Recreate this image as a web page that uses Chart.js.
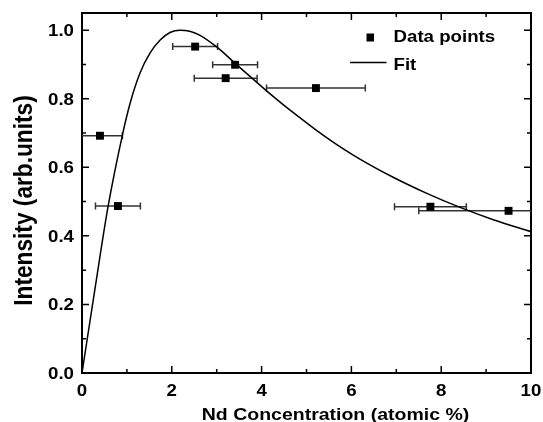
<!DOCTYPE html>
<html>
<head>
<meta charset="utf-8">
<script src="https://cdn.jsdelivr.net/npm/chart.js@4.4.1/dist/chart.umd.min.js"></script>
<style>
  html, body { margin: 0; padding: 0; background: #fff; }
</style>
</head>
<body>
<canvas id="chart" width="543" height="422"></canvas>
<script>
// measured points with horizontal error bars
const ndConc = [0.4, 0.8, 2.52, 3.41, 3.2, 5.21, 7.76, 9.5];
const intensity = [0.692, 0.487, 0.952, 0.899, 0.860, 0.831, 0.485, 0.473];
const concErr = [0.5, 0.5, 0.5, 0.5, 0.7, 1.1, 0.8, 2.0];

// fit curve
const fitConc = [0, 0.3, 0.58, 0.9, 1.07, 1.29, 1.51, 1.74, 1.96, 2.18, 2.4, 2.63, 3.0, 3.37, 3.74, 4.11, 4.48, 4.86, 5.23, 5.6, 6.19, 6.93, 7.68, 8.42, 9.16, 10];
const fitIntensity = [0, 0.255, 0.485, 0.694, 0.786, 0.874, 0.932, 0.971, 0.993, 1.0, 0.997, 0.985, 0.951, 0.908, 0.865, 0.823, 0.783, 0.744, 0.707, 0.673, 0.624, 0.571, 0.524, 0.483, 0.447, 0.412];

const xTickLabels = [0, 2, 4, 6, 8, 10];
const yTickLabels = [0.0, 0.2, 0.4, 0.6, 0.8, 1.0];

const FONT = "Arial, 'Liberation Sans', sans-serif";
const SX = 1.14; // the original text is a bit wider than tall

function wideText(ctx, text, x, y, size, align, rotate) {
  ctx.save();
  ctx.translate(x, y);
  if (rotate) {
    ctx.rotate(-Math.PI / 2);
    ctx.scale(1, SX);
  } else {
    ctx.scale(SX, 1);
  }
  ctx.font = 'bold ' + size + 'px ' + FONT;
  ctx.textAlign = align;
  ctx.textBaseline = 'alphabetic';
  ctx.fillStyle = '#000';
  ctx.fillText(text, 0, 0);
  ctx.restore();
}

const errorBars = {
  id: 'errorBars',
  beforeDatasetsDraw(chart) {
    const { ctx, chartArea, scales: { x, y } } = chart;
    ctx.save();
    ctx.beginPath();
    ctx.rect(chartArea.left, chartArea.top, chartArea.right - chartArea.left, chartArea.bottom - chartArea.top);
    ctx.clip();
    ctx.strokeStyle = '#333';
    ctx.lineWidth = 1.5;
    ndConc.forEach((c, i) => {
      const py = y.getPixelForValue(intensity[i]);
      const x1 = x.getPixelForValue(c - concErr[i]);
      const x2 = x.getPixelForValue(c + concErr[i]);
      ctx.beginPath();
      ctx.moveTo(x1, py); ctx.lineTo(x2, py);
      ctx.moveTo(x1, py - 3.5); ctx.lineTo(x1, py + 3.5);
      ctx.moveTo(x2, py - 3.5); ctx.lineTo(x2, py + 3.5);
      ctx.stroke();
    });
    ctx.restore();
  }
};

const axesDecor = {
  id: 'axesDecor',
  afterDraw(chart) {
    const { ctx, chartArea: a, scales: { x, y } } = chart;
    ctx.save();
    ctx.strokeStyle = '#000';
    ctx.lineWidth = 1.5;
    ctx.beginPath();
    for (let i = 0; i < xTickLabels.length; i++) {
      const px = x.getPixelForValue(xTickLabels[i]);
      ctx.moveTo(px, a.bottom); ctx.lineTo(px, a.bottom - 7);
      ctx.moveTo(px, a.top); ctx.lineTo(px, a.top + 7);
      if (i < xTickLabels.length - 1) {
        const pm = x.getPixelForValue((xTickLabels[i] + xTickLabels[i + 1]) / 2);
        ctx.moveTo(pm, a.bottom); ctx.lineTo(pm, a.bottom - 4);
        ctx.moveTo(pm, a.top); ctx.lineTo(pm, a.top + 4);
      }
    }
    for (let i = 0; i < yTickLabels.length; i++) {
      const py = y.getPixelForValue(yTickLabels[i]);
      ctx.moveTo(a.left, py); ctx.lineTo(a.left + 7, py);
      ctx.moveTo(a.right, py); ctx.lineTo(a.right - 7, py);
      if (i < yTickLabels.length - 1) {
        const pm = y.getPixelForValue((yTickLabels[i] + yTickLabels[i + 1]) / 2);
        ctx.moveTo(a.left, pm); ctx.lineTo(a.left + 4, pm);
        ctx.moveTo(a.right, pm); ctx.lineTo(a.right - 4, pm);
      }
    }
    ctx.stroke();
    ctx.restore();

    // tick labels
    xTickLabels.forEach(v => wideText(ctx, String(v), x.getPixelForValue(v), a.bottom + 23, 16.4, 'center'));
    yTickLabels.forEach(v => wideText(ctx, v.toFixed(1), (a.left - 8) / SX * 0 + a.left - 8, y.getPixelForValue(v) + 5.9, 16.4, 'right'));

    // axis titles
    wideText(ctx, 'Nd Concentration (atomic %)', 335.5 , 420, 17.1, 'center');
    wideText(ctx, 'Intensity (arb.units)', 32.3, 200.5, 22.7, 'center', true);

    // legend
    const tx = a.right - 137.5;
    ctx.fillStyle = '#000';
    ctx.fillRect(tx - 27, 33.5, 7.5, 8);
    ctx.strokeStyle = '#000';
    ctx.lineWidth = 1.5;
    ctx.beginPath();
    ctx.moveTo(tx - 43.5, 62.5); ctx.lineTo(tx - 7, 62.5);
    ctx.stroke();
    wideText(ctx, 'Data points', tx, 41.7, 16.4, 'left');
    wideText(ctx, 'Fit', tx, 70, 16.4, 'left');
  }
};

new Chart(document.getElementById('chart'), {
  data: {
    datasets: [
      {
        type: 'line',
        label: 'Fit',
        data: fitConc.map((c, i) => ({ x: c, y: fitIntensity[i] })),
        borderColor: '#000',
        borderWidth: 1.5,
        pointRadius: 0,
        cubicInterpolationMode: 'monotone',
        fill: false
      },
      {
        type: 'scatter',
        label: 'Data points',
        data: ndConc.map((c, i) => ({ x: c, y: intensity[i] })),
        pointStyle: 'rect',
        radius: 5.6,
        backgroundColor: '#000',
        borderColor: '#000',
        borderWidth: 0
      }
    ]
  },
  options: {
    responsive: false,
    animation: false,
    layout: { padding: 0 },
    plugins: { legend: { display: false }, tooltip: { enabled: false } },
    scales: {
      x: {
        type: 'linear',
        min: 0, max: 10,
        afterBuildTicks: s => { s.ticks = xTickLabels.map(v => ({ value: v })); },
        afterFit: s => { s.height = 49; },
        grid: { display: false },
        border: { display: true, color: '#000', width: 2 },
        ticks: { display: false }
      },
      x2: {
        type: 'linear', position: 'top',
        min: 0, max: 10,
        afterFit: s => { s.height = 13; },
        grid: { display: false },
        border: { display: true, color: '#000', width: 2 },
        ticks: { display: false }
      },
      y: {
        type: 'linear',
        min: 0, max: 1.05,
        afterBuildTicks: s => { s.ticks = yTickLabels.map(v => ({ value: v })); },
        afterFit: s => { s.width = 82; },
        grid: { display: false },
        border: { display: true, color: '#000', width: 2 },
        ticks: { display: false }
      },
      y2: {
        type: 'linear', position: 'right',
        min: 0, max: 1.05,
        afterFit: s => { s.width = 12; },
        grid: { display: false },
        border: { display: true, color: '#000', width: 2 },
        ticks: { display: false }
      }
    }
  },
  plugins: [errorBars, axesDecor]
});
</script>
</body>
</html>
